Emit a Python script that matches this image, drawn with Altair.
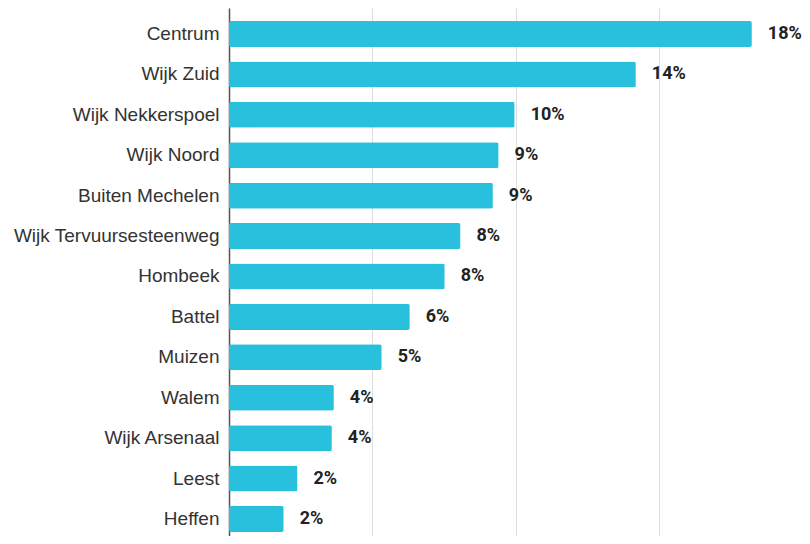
import altair as alt
import pandas as pd

categories = ["Centrum", "Wijk Zuid", "Wijk Nekkerspoel", "Wijk Noord", "Buiten Mechelen",
              "Wijk Tervuursesteenweg", "Hombeek", "Battel", "Muizen", "Walem",
              "Wijk Arsenaal", "Leest", "Heffen"]
values = [18.25, 14.2, 9.97, 9.41, 9.21, 8.08, 7.53, 6.31, 5.33, 3.66, 3.59, 2.39, 1.91]
labels = ["18%", "14%", "10%", "9%", "9%", "8%", "8%", "6%", "5%", "4%", "4%", "2%", "2%"]
grid_ticks = [0, 5, 10, 15, 20]

df = pd.DataFrame({"cat": categories, "val": values, "label": labels})

y_scale = alt.Scale(paddingInner=0.357, paddingOuter=0.21, align=0.765)
y_enc = alt.Y("cat:N", sort=categories, title=None, scale=y_scale,
              axis=alt.Axis(labelFont="Liberation Sans", labelFontSize=19, labelColor="#333333",
                            labelPadding=10, labelLimit=0, ticks=False, domainColor="#555555",
                            domainWidth=1.5, grid=False))
x_enc = alt.X("val:Q", title=None,
              scale=alt.Scale(domain=[0, 20], nice=False, zero=True),
              axis=alt.Axis(values=grid_ticks, labels=False, ticks=False, domain=False,
                            grid=True, gridColor="#dddddd", gridWidth=1))

bars = alt.Chart(df).mark_bar(color="#29c0de", cornerRadius=2).encode(x=x_enc, y=y_enc)
text = alt.Chart(df).mark_text(align="left", baseline="middle", dx=16, font="Roboto",
                               fontSize=18, fontWeight="bold", color="#222222").encode(
    x="val:Q", y=alt.Y("cat:N", sort=categories), text="label:N")

chart = (bars + text).properties(
    width=573, height=528,
    autosize=alt.AutoSizeParams(type="none"),
    padding={"left": 221, "top": 0, "right": 0, "bottom": 0},
).configure_view(stroke=None)

chart.save("out.html", embed_options={"renderer": "svg", "actions": False})
